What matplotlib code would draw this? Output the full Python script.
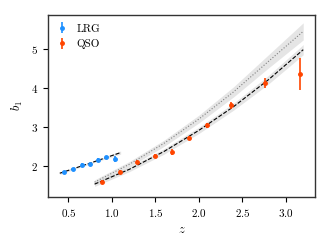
import matplotlib
matplotlib.use('Agg')
import matplotlib.pyplot as plt

# style: LaTeX-like serif
plt.rcParams['font.family'] = 'serif'
plt.rcParams['font.serif'] = ['cmr10', 'DejaVu Serif']
plt.rcParams['mathtext.fontset'] = 'cm'
plt.rcParams['axes.formatter.use_mathtext'] = True
plt.rcParams['axes.unicode_minus'] = False

# data points
lrg_z = [0.45, 0.55, 0.65, 0.75, 0.84, 0.93, 1.03]
lrg_b = [1.83, 1.91, 2.03, 2.05, 2.15, 2.22, 2.17]
lrg_err = [0.03, 0.03, 0.03, 0.03, 0.04, 0.04, 0.08]

qso_z = [0.89, 1.09, 1.29, 1.50, 1.69, 1.89, 2.09, 2.37, 2.76, 3.16]
qso_b = [1.59, 1.85, 2.11, 2.26, 2.36, 2.71, 3.04, 3.56, 4.12, 4.36]
qso_err = [0.04, 0.04, 0.05, 0.05, 0.08, 0.06, 0.07, 0.09, 0.13, 0.41]

# model curves
lrg_mz = [0.40, 0.75, 1.10]
lrg_mb = [1.81, 2.07, 2.34]
lrg_mw = [0.03, 0.02, 0.04]

qso_mz = [0.80, 1.20, 1.60, 2.00, 2.40, 2.80, 3.20]
qso_dash = [1.53, 1.91, 2.37, 2.91, 3.52, 4.21, 4.98]
qso_dash_w = [0.06, 0.06, 0.07, 0.08, 0.09, 0.11, 0.13]
qso_dot = [1.58, 2.04, 2.58, 3.20, 3.90, 4.68, 5.45]
qso_dot_w = [0.06, 0.07, 0.08, 0.10, 0.13, 0.17, 0.22]

fig = plt.figure(figsize=(3.3, 2.5), dpi=100)
ax = fig.add_axes([0.145, 0.212, 0.81, 0.728])

band = dict(color='0.82', alpha=0.55, lw=0)
ax.fill_between(lrg_mz, [b - w for b, w in zip(lrg_mb, lrg_mw)],
                [b + w for b, w in zip(lrg_mb, lrg_mw)], **band)
ax.fill_between(qso_mz, [b - w for b, w in zip(qso_dot, qso_dot_w)],
                [b + w for b, w in zip(qso_dot, qso_dot_w)], **band)
ax.fill_between(qso_mz, [b - w for b, w in zip(qso_dash, qso_dash_w)],
                [b + w for b, w in zip(qso_dash, qso_dash_w)], **band)

ax.plot(lrg_mz, lrg_mb, '--', color='k', lw=0.8)
ax.plot(qso_mz, qso_dot, ':', color='0.5', lw=0.8)
ax.plot(qso_mz, qso_dash, '--', color='k', lw=0.8)

ax.errorbar(lrg_z, lrg_b, yerr=lrg_err, fmt='o', ms=2.5, color='#1E90FF',
            elinewidth=1.2, capsize=0, label='LRG')
ax.errorbar(qso_z, qso_b, yerr=qso_err, fmt='o', ms=2.5, color='#FF4500',
            elinewidth=1.2, capsize=0, label='QSO')

ax.set_xlim(0.263, 3.337)
ax.set_ylim(1.2, 5.87)
ax.set_xticks([0.5, 1.0, 1.5, 2.0, 2.5, 3.0])
ax.set_yticks([2, 3, 4, 5])
ax.tick_params(labelsize=8, length=3.5, width=0.8, direction='out')
for s in ax.spines.values():
    s.set_color('#333333')
    s.set_linewidth(1.0)

ax.set_xlabel('$z$', fontsize=9)
ax.set_ylabel('$b_1$', fontsize=9)
ax.legend(loc='upper left', frameon=False, fontsize=8, handlelength=1.0,
          handletextpad=0.8, borderaxespad=0.4)

fig.savefig('out.png', dpi=100)
